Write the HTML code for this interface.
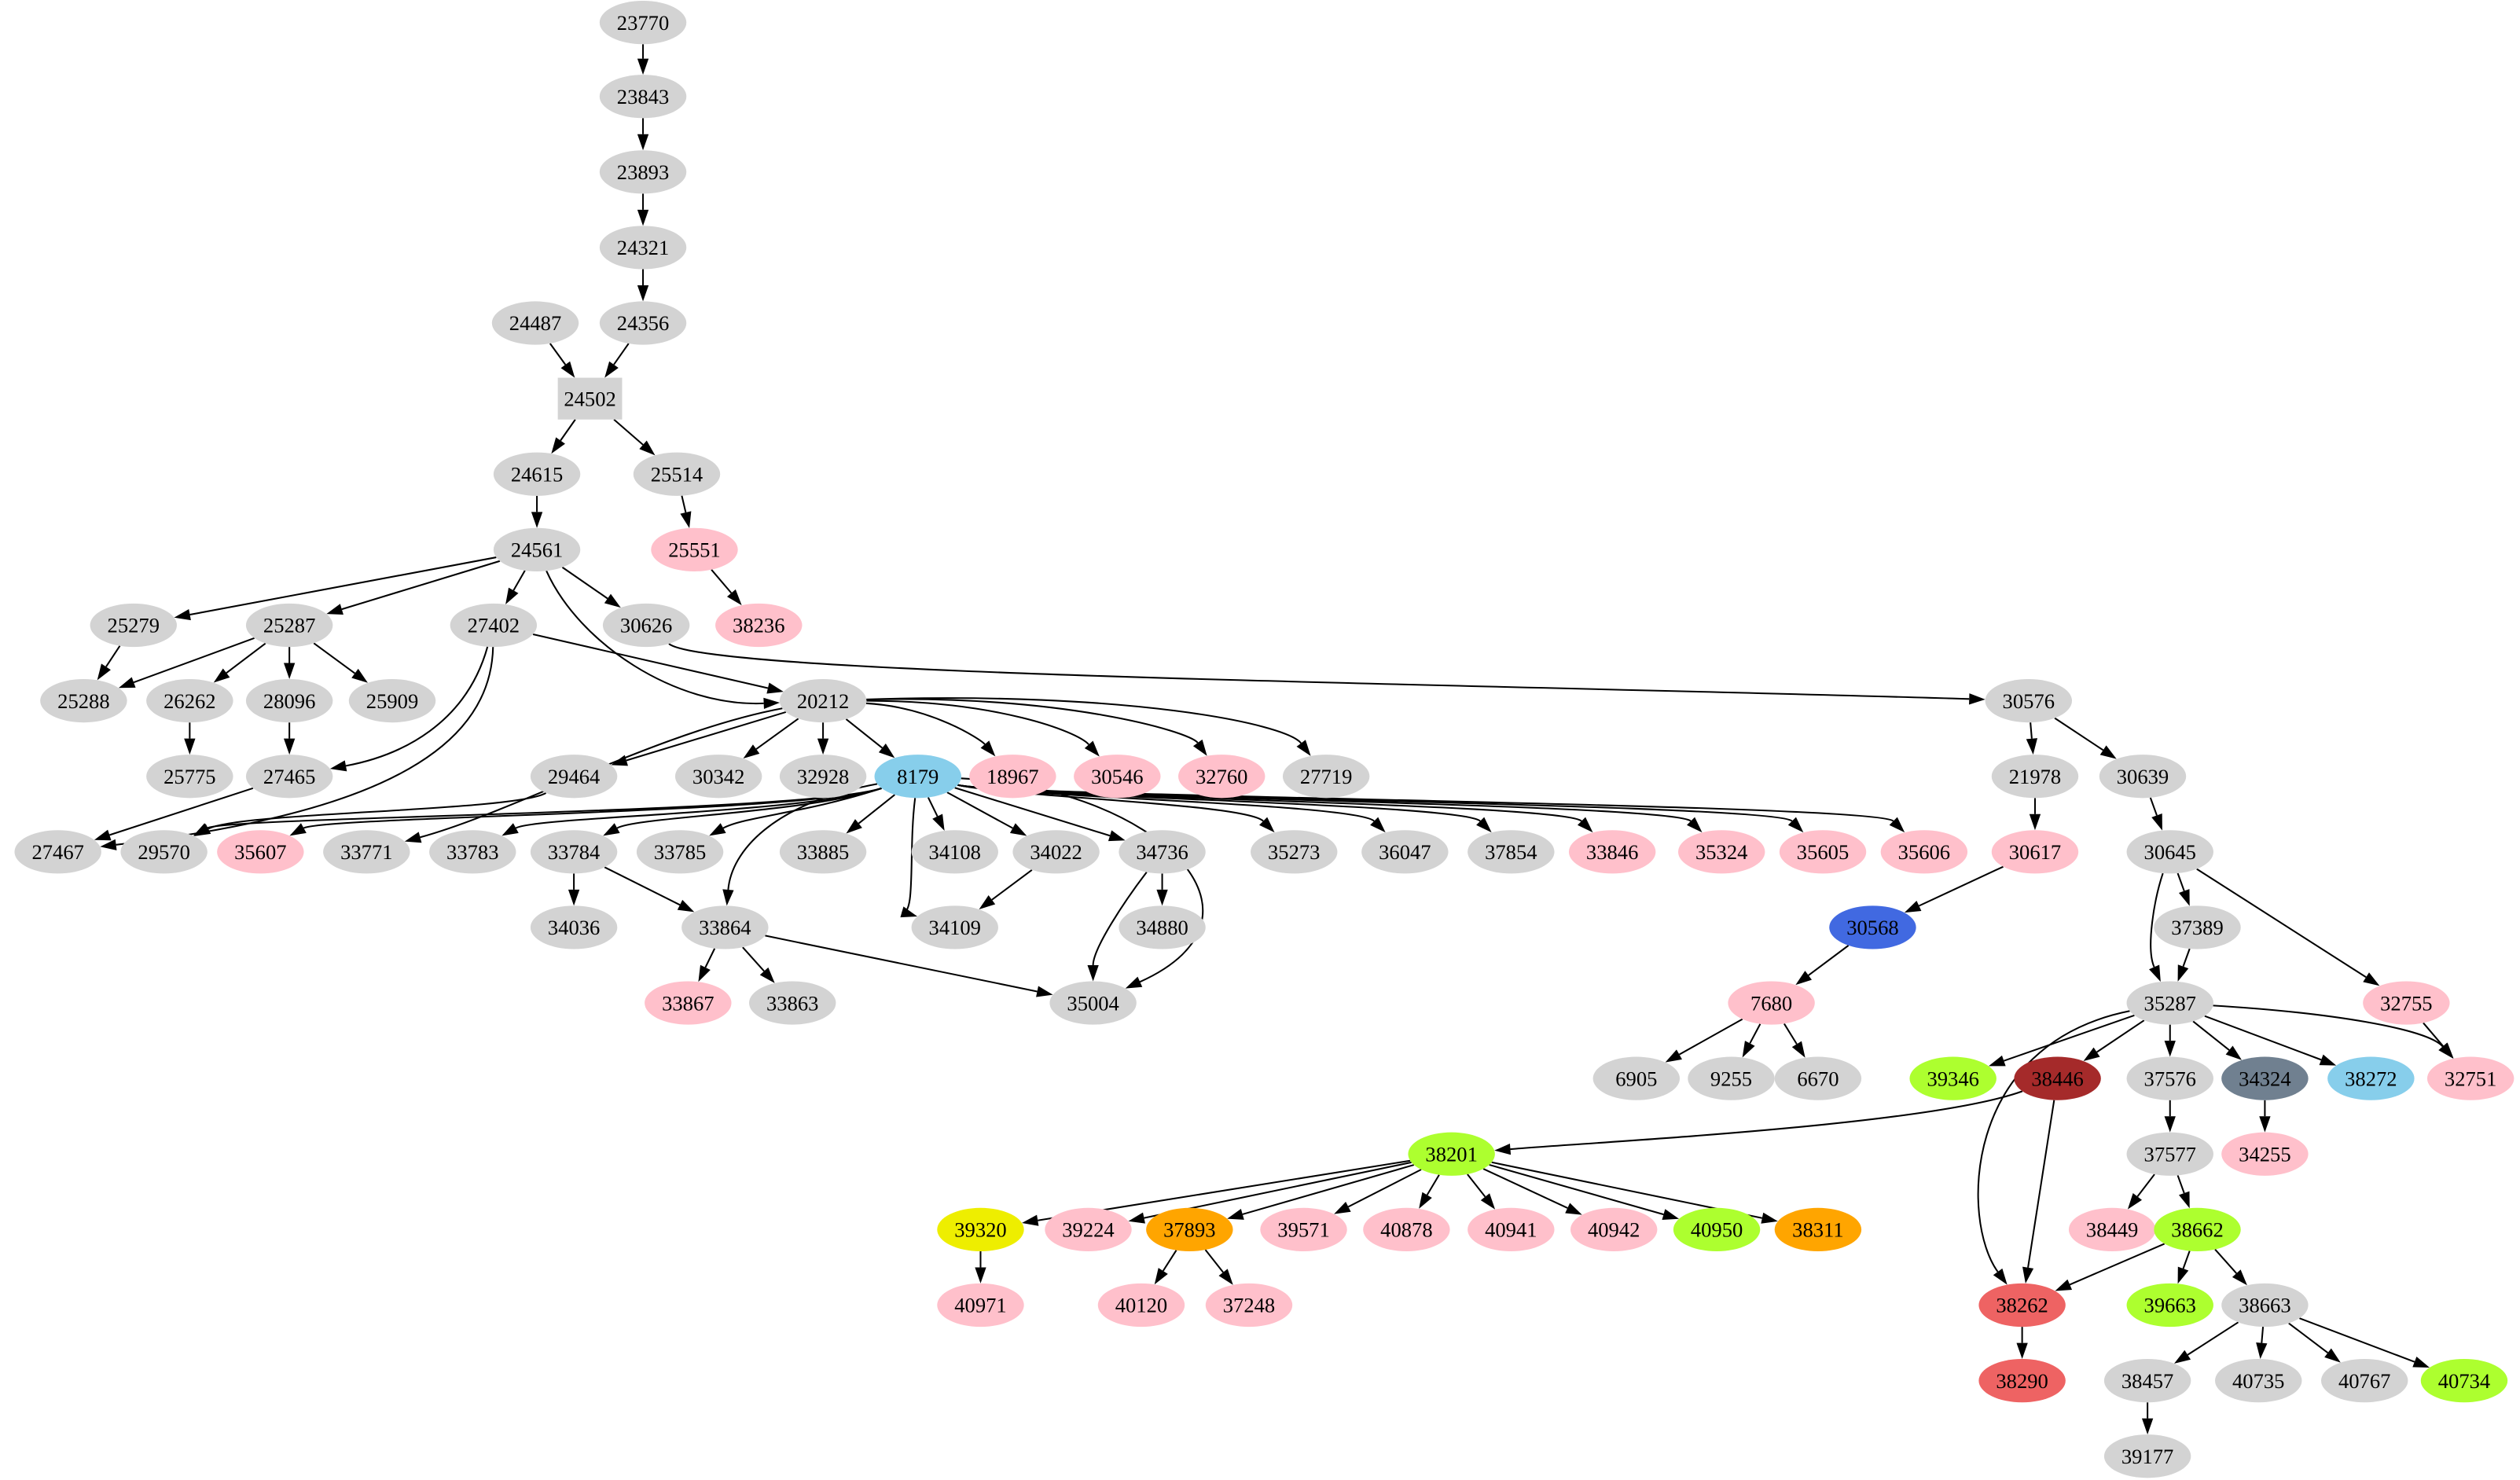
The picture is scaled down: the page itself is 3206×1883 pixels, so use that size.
<!DOCTYPE html>
<html><head><meta charset="utf-8">
<style>html,body{margin:0;padding:0;background:#fff}svg{display:block}</style>
</head><body>
<svg id="g" width="3206" height="1883" viewBox="0 0 1567.7 920.8" xmlns="http://www.w3.org/2000/svg" font-family="Liberation Serif, serif" font-size="13"></svg>
<script>
var G='#d3d3d3',P='#ffc0cb',SB='#87ceeb',RB='#4169e1',GY='#adff2f',BR='#a52a2a',SG='#708090',YE='#eeee00',OR='#ffa500',RD='#ee6363';
var N={};
function n(id,x,y,c,box){N[id]={x:x,y:y,c:c||G,box:box};}
n('23770',400,14);n('23843',400,60);n('23893',400,107);n('24321',400,154);
n('24487',333,201);n('24356',400,201);n('24502',367,248,G,1);
n('24615',334,295);n('25514',421,295);
n('24561',334,342);n('25551',432,342,P);
n('25279',83,389);n('25287',180,389);n('27402',307,389);n('30626',402,389);n('38236',472,389,P);
n('25288',52,436);n('26262',118,436);n('28096',180,436);n('25909',244,436);n('20212',512,436);n('30576',1262,436);
n('25775',118,483);n('27465',180,483);n('29464',357,483);n('30342',447,483);n('32928',512,483);n('8179',571,483,SB);
n('18967',630,483,P);n('30546',695,483,P);n('32760',760,483,P);n('27719',825,483);n('21978',1266,483);n('30639',1333,483);
n('27467',36,530);n('29570',102,530);n('35607',162,530,P);n('33771',228,530);n('33783',294,530);n('33784',357,530);
n('33785',423,530);n('33885',512,530);n('34108',594,530);n('34022',657,530);n('34736',723,530);n('35273',805,530);
n('36047',874,530);n('37854',940,530);n('33846',1003,530,P);n('35324',1071,530,P);n('35605',1134,530,P);n('35606',1197,530,P);
n('30617',1266,530,P);n('30645',1350,530);
n('34036',357,577);n('33864',451,577);n('34109',594,577);n('34880',723,577);n('30568',1165,577,RB);n('37389',1367,577);
n('33867',428,624,P);n('33863',493,624);n('35004',680,624);n('7680',1102,624,P);n('35287',1350,624);n('32755',1497,624,P);
n('6905',1018,671);n('9255',1077,671);n('6670',1131,671);n('39346',1215,671,GY);n('38446',1280,671,BR);n('37576',1350,671);
n('34324',1409,671,SG);n('38272',1475,671,SB);n('32751',1537,671,P);
n('38201',903,718,GY);n('37577',1350,718);n('34255',1409,718,P);
n('39320',610,765,YE);n('39224',677,765,P);n('37893',740,765,OR);n('39571',811,765,P);n('40878',875,765,P);n('40941',940,765,P);
n('40942',1004,765,P);n('40950',1068,765,GY);n('38311',1131,765,OR);n('38449',1314,765,P);n('38662',1367,765,GY);
n('40971',610,812,P);n('40120',710,812,P);n('37248',777,812,P);n('38262',1258,812,RD);n('39663',1350,812,GY);n('38663',1409,812);
n('38290',1258,859,RD);n('38457',1336,859);n('40735',1405,859);n('40767',1471,859);n('40734',1533,859,GY);
n('39177',1336,906);
function H(t){return ['8179',t,'h'];}
var E=[
['23770','23843'],['23843','23893'],['23893','24321'],['24321','24356'],['24356','24502'],['24487','24502'],
['24502','24615'],['24502','25514'],['24615','24561'],['25514','25551'],['25551','38236'],
['24561','25279'],['24561','25287'],['24561','27402'],['24561','30626'],['24561','20212',[360,400],[420,440]],
['25279','25288'],['25287','25288'],['25287','26262'],['25287','28096'],['25287','25909'],['26262','25775'],['28096','27465'],
['27402','20212'],['27402','27465',[290,450],[250,470]],['27402','27467',[305,480],[200,510]],['27465','27467'],
['29464','29570',[320,505],[150,505]],
['30626','30576',[440,420],[900,425]],
['20212','29464'],['20212','30342'],['20212','32928'],['20212','8179'],['20212','18967',[580,440],[610,460]],
['20212','30546',[620,436],[670,455]],['20212','32760',[660,432],[740,455]],['20212','27719',[700,430],[800,450]],
['20212','33771',[410,455],[320,505]],
H('29570'),H('35607'),H('33783'),H('33784'),H('33785'),
['8179','33885'],['8179','34108'],['8179','34022'],['8179','34736'],
H('35273'),H('36047'),H('37854'),H('33846'),H('35324'),H('35605'),H('35606'),
['8179','33864',[480,500],[455,530]],['8179','34109',[565,530],[570,570]],['8179','35004',[720,490],[800,570]],
['33784','34036'],['33784','33864'],['34022','34109'],['34736','34880'],['34736','35004',[700,560],[680,590]],
['33864','33867'],['33864','33863'],['33864','35004'],
['30576','21978'],['30576','30639'],['21978','30617'],['30617','30568'],['30568','7680'],
['7680','6905'],['7680','9255'],['7680','6670'],
['30639','30645'],['30645','37389'],['30645','35287',[1340,560],[1335,590]],['30645','32755'],['37389','35287'],['32755','32751'],
['35287','39346'],['35287','38446'],['35287','37576'],['35287','34324'],['35287','38272'],['35287','32751',[1450,630],[1510,640]],
['35287','38262',[1220,650],[1220,760]],
['38446','38201',[1200,700],[1000,710]],['38446','38262'],['37576','37577'],['37577','38449'],['37577','38662'],['34324','34255'],
['38662','38262'],['38662','39663'],['38662','38663'],['38262','38290'],
['38663','38457'],['38663','40735'],['38663','40767'],['38663','40734'],['38457','39177'],
['38201','39320'],['38201','39224'],['38201','37893'],['38201','39571'],['38201','40878'],
['38201','40941'],['38201','40942'],['38201','40950'],['38201','38311'],
['39320','40971'],['37893','40120'],['37893','37248']
];
var RX=27,RY=13.5;
function clip(nd,dx,dy){
 if(nd.box){var t=Math.min(20/Math.abs(dx||1e-9),13/Math.abs(dy||1e-9));return [nd.x+dx*t,nd.y+dy*t];}
 var t=1/Math.sqrt((dx/RX)*(dx/RX)+(dy/RY)*(dy/RY));return [nd.x+dx*t,nd.y+dy*t];}
var s='';
E.forEach(function(e){
 var a=N[e[0]],b=N[e[1]],c1=e[2],c2=e[3];
 if(c1==='h'){var dir=b.x>a.x?1:-1;
  if(dir>0){c1=[a.x+60,496];c2=[b.x-30,500];}
  else{c1=[a.x-70,506];c2=[b.x+40,508];}}
 var p0,p1,ux,uy;
 if(c1){p0=clip(a,c1[0]-a.x,c1[1]-a.y);p1=clip(b,c2[0]-b.x,c2[1]-b.y);ux=p1[0]-c2[0];uy=p1[1]-c2[1];}
 else{p0=clip(a,b.x-a.x,b.y-a.y);p1=clip(b,a.x-b.x,a.y-b.y);ux=p1[0]-p0[0];uy=p1[1]-p0[1];}
 var L=Math.sqrt(ux*ux+uy*uy);ux/=L;uy/=L;
 var al=10,aw=3.5;
 var bx=p1[0]-ux*al,by=p1[1]-uy*al;
 if(c1) s+='<path d="M'+p0[0]+','+p0[1]+' C'+c1[0]+','+c1[1]+' '+c2[0]+','+c2[1]+' '+bx+','+by+'" fill="none" stroke="#000" stroke-width="1"/>';
 else s+='<path d="M'+p0[0]+','+p0[1]+' L'+bx+','+by+'" fill="none" stroke="#000" stroke-width="1"/>';
 s+='<polygon points="'+p1[0]+','+p1[1]+' '+(bx-uy*aw)+','+(by+ux*aw)+' '+(bx+uy*aw)+','+(by-ux*aw)+'" fill="#000"/>';
});
for(var k in N){var d=N[k];
 if(d.box) s+='<rect x="'+(d.x-20)+'" y="'+(d.y-13)+'" width="40" height="26" fill="'+d.c+'"/>';
 else s+='<ellipse cx="'+d.x+'" cy="'+d.y+'" rx="'+RX+'" ry="'+RY+'" fill="'+d.c+'"/>';
 s+='<text x="'+d.x+'" y="'+(d.y+4.5)+'" text-anchor="middle">'+k+'</text>';
}
document.getElementById('g').innerHTML=s;
</script>
</body></html>
